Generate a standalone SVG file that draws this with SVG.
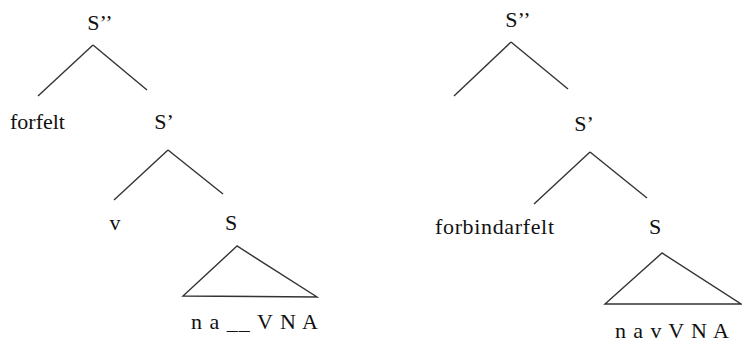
<svg xmlns="http://www.w3.org/2000/svg" width="742" height="345" viewBox="0 0 742 345">
<style>
text{font-family:"Liberation Serif","Times New Roman",serif;font-size:22px;fill:#111}
.m{text-anchor:middle}
line,polygon{stroke:#333;stroke-width:1.4;fill:none}
</style>
<rect width="742" height="345" fill="#fff"/>
<g id="connectors">
<line x1="93" y1="45" x2="38" y2="96"/>
<line x1="93" y1="45" x2="147" y2="90"/>
<line x1="168" y1="150" x2="114" y2="200"/>
<line x1="168" y1="150" x2="223" y2="194"/>
<polygon points="237,246 183,296 317,297"/>
<line x1="511" y1="42" x2="454" y2="96"/>
<line x1="511" y1="42" x2="568" y2="89"/>
<line x1="590" y1="152" x2="534" y2="204"/>
<line x1="590" y1="152" x2="647" y2="198"/>
<polygon points="662,253 605,304 741,304"/>
</g>
<g id="left-S2"><text class="m" x="100" y="30">S’’</text></g>
<g id="left-forfelt"><text x="10" y="129">forfelt</text></g>
<g id="left-S1"><text class="m" x="164" y="129">S’</text></g>
<g id="left-v"><text class="m" x="115" y="230">v</text></g>
<g id="left-S"><text class="m" x="231" y="230">S</text></g>
<g id="left-leaf"><text x="191" y="329" textLength="127" lengthAdjust="spacing">n a __  V N A</text></g>
<g id="right-S2"><text class="m" x="518" y="27">S’’</text></g>
<g id="right-S1"><text class="m" x="584" y="131">S’</text></g>
<g id="right-forbindarfelt"><text x="435" y="234" textLength="119" lengthAdjust="spacing">forbindarfelt</text></g>
<g id="right-S"><text class="m" x="655" y="234">S</text></g>
<g id="right-leaf"><text x="615" y="338" textLength="114" lengthAdjust="spacing">n a v V N A</text></g>
</svg>
